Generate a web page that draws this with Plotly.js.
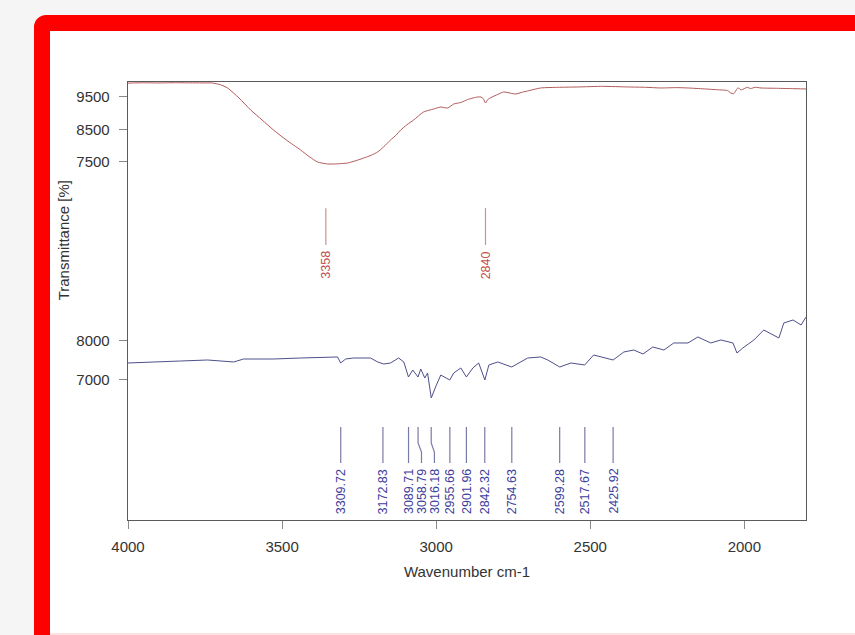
<!DOCTYPE html>
<html>
<head>
<meta charset="utf-8">
<script src="https://cdn.plot.ly/plotly-3.0.1.min.js"></script>
<style>
  html, body { margin:0; padding:0; }
  body { width:855px; height:635px; overflow:hidden; position:relative; background:#f5f5f5; }
  #frame { position:absolute; left:34px; top:15px; width:900px; height:700px; border:16px solid #ff0000; border-radius:12px; background:#ffffff; box-sizing:border-box; }
  #pink { position:absolute; left:50px; top:633px; width:805px; height:2px; background:#fde2e2; }
  #chart { position:absolute; left:0; top:0; width:855px; height:635px; }
</style>
</head>
<body>
<div id="frame"></div>
<div id="pink"></div>
<div id="chart"></div>
<script>
// ---- Upper spectrum (red) ----
const topWn = [4000, 3950, 3900, 3850, 3800, 3760, 3726, 3700, 3677, 3640, 3602, 3565, 3528, 3485, 3440, 3410, 3385, 3352, 3320, 3287, 3260, 3235, 3210, 3190, 3170, 3148, 3130, 3115, 3095, 3073, 3041, 3008, 2985, 2963, 2943, 2920, 2898, 2880, 2865, 2855, 2847, 2840, 2833, 2823, 2800, 2781, 2760, 2742, 2720, 2703, 2661, 2600, 2540, 2460, 2378, 2320, 2271, 2220, 2183, 2130, 2076, 2055, 2044, 2035, 2030, 2021, 2010, 2000, 1990, 1980, 1965, 1946, 1900, 1850, 1800];
const topT  = [9930, 9940, 9935, 9942, 9938, 9936, 9933, 9880, 9779, 9470, 9098, 8790, 8478, 8160, 7859, 7640, 7488, 7426, 7430, 7457, 7530, 7611, 7700, 7797, 7960, 8169, 8320, 8478, 8640, 8788, 9036, 9128, 9190, 9159, 9283, 9330, 9420, 9470, 9500, 9500, 9450, 9314, 9420, 9480, 9580, 9655, 9620, 9593, 9650, 9686, 9779, 9800, 9810, 9830, 9810, 9800, 9779, 9790, 9779, 9750, 9717, 9700, 9624, 9600, 9660, 9780, 9720, 9760, 9800, 9760, 9800, 9779, 9770, 9760, 9748];

// ---- Lower spectrum (blue) ----
const botWn = [4000, 3872, 3830, 3742, 3657, 3625, 3528, 3440, 3333, 3320, 3310, 3294, 3268, 3213, 3190, 3170, 3148, 3122, 3105, 3090, 3076, 3059, 3050, 3037, 3028, 3016, 3002, 2985, 2956, 2943, 2920, 2902, 2881, 2862, 2842, 2829, 2800, 2755, 2703, 2661, 2638, 2599, 2563, 2518, 2489, 2456, 2426, 2391, 2359, 2329, 2297, 2261, 2229, 2183, 2151, 2109, 2076, 2037, 2024, 2005, 1969, 1937, 1907, 1888, 1872, 1842, 1816, 1800];
const botT  = [7436, 7462, 7487, 7513, 7462, 7538, 7538, 7564, 7590, 7590, 7436, 7538, 7564, 7564, 7462, 7410, 7436, 7564, 7462, 7077, 7256, 7077, 7282, 7051, 7180, 6539, 6821, 7128, 7000, 7180, 7308, 7077, 7308, 7436, 7000, 7385, 7462, 7333, 7564, 7590, 7513, 7333, 7436, 7385, 7641, 7564, 7513, 7718, 7769, 7667, 7846, 7769, 7949, 7949, 8103, 7949, 8026, 7949, 7692, 7821, 8026, 8282, 8154, 8077, 8462, 8538, 8410, 8615];

// ---- Peak labels ----
const topPeaks = [3358, 2840];
const botPeaks = [3309.72, 3172.83, 3089.71, 3058.79, 3016.18, 2955.66, 2901.96, 2842.32, 2754.63, 2599.28, 2517.67, 2425.92];

// ---- Axis ticks ----
const xTicks = [4000, 3500, 3000, 2500, 2000];
const yTopTicks = [7500, 8500, 9500];
const yBotTicks = [7000, 8000];

const topColor = '#b25a5a';
const botColor = '#4f4f8c';
const topLabelColor = '#c0504d';
const botLabelColor = '#3d3d9c';
const fontFam = 'Liberation Sans, Arial, sans-serif';

const traces = [
  { x: topWn, y: topT, type: 'scatter', mode: 'lines', line: { color: topColor, width: 1, shape: 'spline', smoothing: 0.6 }, yaxis: 'y', hoverinfo: 'skip', showlegend: false },
  { x: botWn, y: botT, type: 'scatter', mode: 'lines', line: { color: botColor, width: 1 }, yaxis: 'y2', hoverinfo: 'skip', showlegend: false }
];

const shapes = [];
const annotations = [];

// upper labels
topPeaks.forEach(p => {
  shapes.push({ type: 'line', xref: 'x', yref: 'paper', x0: p, x1: p, y0: 0.712, y1: 0.628, line: { color: '#c99090', width: 1.2 } });
  annotations.push({ x: p, xref: 'x', y: 0.619, yref: 'paper', text: String(p), showarrow: false, textangle: -90, xanchor: 'center', yanchor: 'top', font: { family: fontFam, size: 12.5, color: topLabelColor } });
});

// lower labels with simple de-overlap
const minGap = 42;
let prev = Infinity;
botPeaks.forEach(p => {
  const lab = Math.min(p, prev - minGap);
  prev = lab;
  if (Math.abs(lab - p) < 0.01) {
    shapes.push({ type: 'line', xref: 'x', yref: 'paper', x0: p, x1: p, y0: 0.2123, y1: 0.130, line: { color: '#7a7aa6', width: 1.2 } });
  } else {
    shapes.push({ type: 'path', xref: 'x', yref: 'paper',
      path: `M ${p} 0.2123 L ${p} 0.176 L ${lab} 0.155 L ${lab} 0.130`,
      line: { color: '#7a7aa6', width: 1.2 } });
  }
  annotations.push({ x: lab, xref: 'x', y: 0.121, yref: 'paper', text: p.toFixed(2), showarrow: false, textangle: -90, xanchor: 'center', yanchor: 'top', font: { family: fontFam, size: 12.5, color: botLabelColor } });
});

// y-axis title
annotations.push({ x: -0.0955, xref: 'paper', y: 0.639, yref: 'paper', text: 'Transmittance [%]', showarrow: false, textangle: -90, xanchor: 'center', yanchor: 'middle', font: { family: fontFam, size: 15, color: '#333' } });

const axCommon = { showgrid: false, zeroline: false, showline: true, linecolor: '#5a5a5a', linewidth: 1.3, ticks: 'outside', ticklen: 8, tickcolor: '#888', tickwidth: 1, tickfont: { family: fontFam, size: 15, color: '#333' } };

const layout = {
  width: 855, height: 635,
  margin: { l: 128, r: 49, t: 82, b: 115 },
  paper_bgcolor: 'rgba(0,0,0,0)',
  plot_bgcolor: 'rgba(0,0,0,0)',
  showlegend: false,
  xaxis: Object.assign({}, axCommon, { range: [4000, 1800], tickvals: xTicks, mirror: true, ticklabelstandoff: 5,
    title: { text: 'Wavenumber cm-1', font: { family: fontFam, size: 15, color: '#333' }, standoff: 12 } }),
  yaxis: Object.assign({}, axCommon, { range: [-3596, 9964], tickvals: yTopTicks, mirror: true, ticklabelstandoff: 6 }),
  yaxis2: Object.assign({}, axCommon, { range: [3410, 14641], tickvals: yBotTicks, overlaying: 'y', side: 'left', anchor: 'x', ticklabelstandoff: 6 }),
  shapes: shapes,
  annotations: annotations
};

Plotly.newPlot('chart', traces, layout, { staticPlot: true, displayModeBar: false });
</script>
</body>
</html>
